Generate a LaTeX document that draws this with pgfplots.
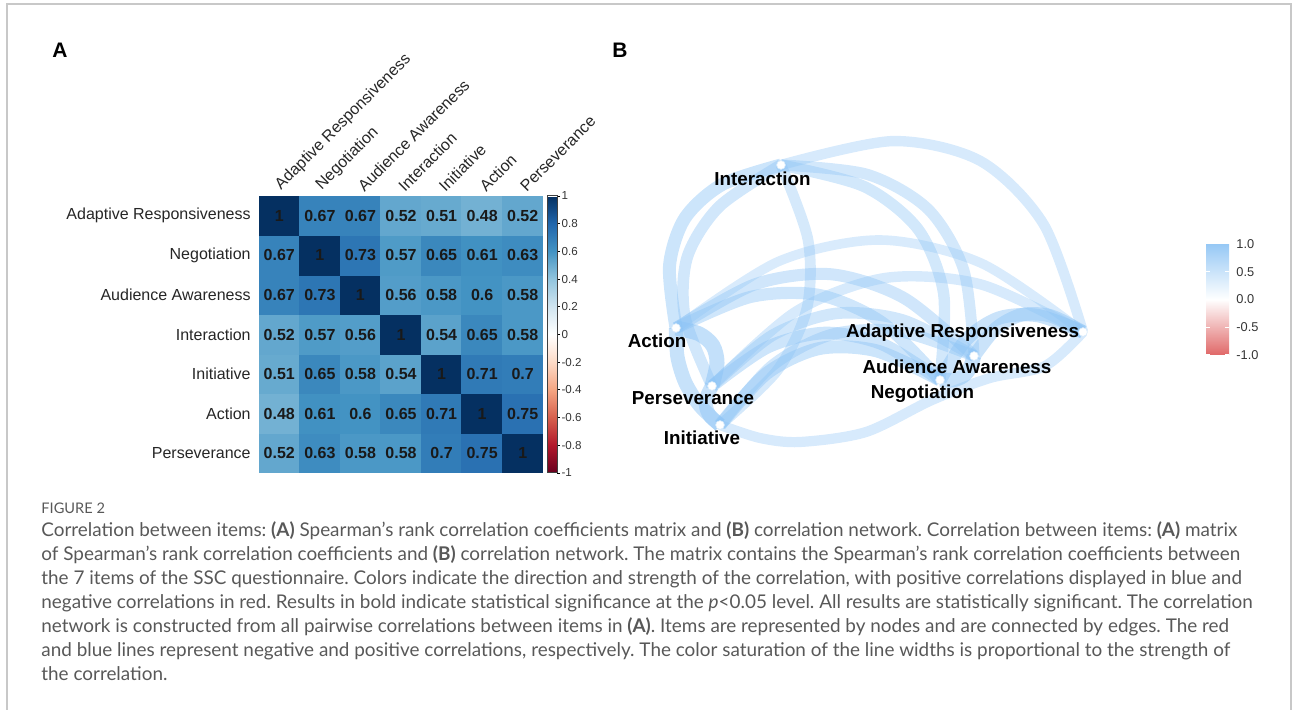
\documentclass[border=0pt]{standalone}
\usepackage{pgfplots}
\pgfplotsset{compat=1.18}
\usepackage{pgfplotstable}
\usepackage{fontspec}
\setmainfont{Liberation Sans}
\newfontfamily\capfont{Lato}

\definecolor{edgeblue}{RGB}{140,195,245}
\definecolor{captgray}{RGB}{88,88,88}
\definecolor{framegray}{RGB}{200,200,200}

\pgfplotsset{
  colormap={RdBu}{rgb255=(103,0,31) rgb255=(178,24,43) rgb255=(214,96,77) rgb255=(244,165,130)
    rgb255=(253,219,199) rgb255=(255,255,255) rgb255=(209,229,240) rgb255=(146,197,222)
    rgb255=(67,147,195) rgb255=(33,102,172) rgb255=(5,48,97)},
  colormap={net}{rgb255=(224,104,104) rgb255=(255,255,255) rgb255=(150,200,245)},
  netedge/.style 2 args={smooth, no marks, draw=edgeblue, draw opacity=#2, line width=#1*10pt},
}

% Spearman correlations, rows bottom (Perseverance) to top (Adaptive Responsiveness)
\pgfplotstableread{
x y c
0 0 0.52
1 0 0.63
2 0 0.58
3 0 0.58
4 0 0.7
5 0 0.75
6 0 1
0 1 0.48
1 1 0.61
2 1 0.6
3 1 0.65
4 1 0.71
5 1 1
6 1 0.75
0 2 0.51
1 2 0.65
2 2 0.58
3 2 0.54
4 2 1
5 2 0.71
6 2 0.7
0 3 0.52
1 3 0.57
2 3 0.56
3 3 1
4 3 0.54
5 3 0.65
6 3 0.58
0 4 0.67
1 4 0.73
2 4 1
3 4 0.56
4 4 0.58
5 4 0.6
6 4 0.58
0 5 0.67
1 5 1
2 5 0.73
3 5 0.57
4 5 0.65
5 5 0.61
6 5 0.63
0 6 1
1 6 0.67
2 6 0.67
3 6 0.52
4 6 0.51
5 6 0.48
6 6 0.52
}\corr

\begin{document}
\frenchspacing
\begin{tikzpicture}
\path[use as bounding box] (0,0) rectangle (646.5pt,355pt);
\draw[framegray, line width=0.6pt] (3.5pt,0pt) -- (3.5pt,353pt) -- (645.5pt,353pt) -- (645.5pt,0pt);

\node[font=\bfseries\fontsize{10.5}{12}\selectfont] at (30pt,330pt) {A};
\node[font=\bfseries\fontsize{10.5}{12}\selectfont] at (310pt,330pt) {B};

% ---------- panel A: correlation matrix
\begin{axis}[
  at={(129.5pt,118.5pt)}, anchor=south west,
  scale only axis, width=142pt, height=138.5pt,
  xmin=-0.5, xmax=6.5, ymin=-0.5, ymax=6.5,
  axis line style={draw=none}, major tick length=0pt,
  xtick={0,...,6}, ytick={0,...,6},
  xticklabels={Adaptive Responsiveness,Negotiation,Audience Awareness,Interaction,Initiative,Action,Perseverance},
  yticklabels={Perseverance,Action,Initiative,Interaction,Audience Awareness,Negotiation,Adaptive Responsiveness},
  xticklabel pos=right,
  xticklabel style={rotate=45, anchor=south west, inner sep=0pt, xshift=2.5pt, yshift=-0.5pt},
  yticklabel style={anchor=east, inner sep=0pt, xshift=-4pt},
  tick label style={font=\fontsize{8}{9}\selectfont, text=black!85},
  colormap name=RdBu, point meta min=-1, point meta max=1,
]
\addplot[matrix plot*, mesh/cols=7, point meta=explicit] table[x=x, y=y, meta=c] {\corr};
\addplot[only marks, mark=none, point meta=explicit symbolic,
  nodes near coords={\pgfplotspointmeta}, nodes near coords align={center},
  every node near coord/.append style={font=\bfseries\fontsize{8}{9}\selectfont, text=black!90, inner sep=0pt}]
  table[x=x, y=y, meta=c] {\corr};
\end{axis}

% colorbar of panel A
\begin{axis}[
  at={(273.5pt,118.5pt)}, anchor=south west,
  hide axis, scale only axis, width=0pt, height=0pt,
  colormap name=RdBu, point meta min=-1, point meta max=1,
  colorbar shift/.style={},
  colorbar,
  colorbar style={
    at={(parent axis.south west)}, anchor=south west,
    scale only axis, width=5pt, height=138.5pt,
    ytick={-1,-0.8,-0.6,-0.4,-0.2,0,0.2,0.4,0.6,0.8,1},
    yticklabels={-1,-0.8,-0.6,-0.4,-0.2,0,0.2,0.4,0.6,0.8,1},
    yticklabel style={font=\fontsize{5.8}{6}\selectfont, text=black!80, inner sep=0.6pt},
    major tick length=1.5pt, tick align=outside, ytick pos=right,
    tick style={black, line width=0.4pt},
    axis line style={black!75, line width=0.5pt},
  },
]
\addplot[draw=none] coordinates {(0,0)};
\end{axis}

% ---------- panel B: correlation network (pixel-like coordinates)
\begin{axis}[
  at={(300pt,125pt)}, anchor=south west,
  scale only axis, width=250pt, height=165pt,
  xmin=600, xmax=1100, ymin=130, ymax=460, y dir=reverse,
  hide axis, clip=false,
]
\addplot[netedge={0.48}{0.33}] coordinates {(676,328) (778.4,261.5) (880.4,240) (981.9,263.5) (1083,332)};
\addplot[netedge={0.51}{0.35}] coordinates {(720,425) (760,438) (800,442) (866,432) (932,400) (990,378) (1045,366) (1083,332)};
\addplot[netedge={0.52}{0.35}] coordinates {(781,165) (892.8,141.1) (980.4,161) (1043.8,224.6) (1083,332)};
\addplot[netedge={0.52}{0.35}] coordinates {(712,386) (795.9,311.6) (885.7,277.9) (981.4,284.6) (1083,332)};
\addplot[netedge={0.54}{0.37}] coordinates {(781,165) (808,239.9) (806.9,308.2) (777.6,369.9) (720,425)};
\addplot[netedge={0.56}{0.38}] coordinates {(781,165) (867.2,174.4) (928.2,209.3) (963.7,269.9) (974,356)};
\addplot[netedge={0.57}{0.39}] coordinates {(781,165) (864.2,186.6) (918.4,229.7) (943.7,294.1) (940,380)};
\addplot[netedge={0.58}{0.40}] coordinates {(781,165) (719.4,206.4) (687.3,257) (684.9,316.9) (712,386)};
\addplot[netedge={0.58}{0.40}] coordinates {(712,386) (772.5,335.3) (836.4,313.4) (903.5,320.3) (974,356)};
\addplot[netedge={0.58}{0.40}] coordinates {(720,425) (772.1,365.7) (831.8,334.5) (899.1,331.3) (974,356)};
\addplot[netedge={0.60}{0.41}] coordinates {(676,328) (755.3,284.2) (831.4,274.3) (904.3,298.2) (974,356)};
\addplot[netedge={0.61}{0.42}] coordinates {(676,328) (750.7,296.9) (819.6,295.1) (882.7,322.9) (940,380)};
\addplot[netedge={0.63}{0.43}] coordinates {(712,386) (768,347) (824.7,333) (882,344) (940,380)};
\addplot[netedge={0.65}{0.44}] coordinates {(781,165) (722,184.6) (684.8,218.3) (669.5,266.1) (676,328)};
\addplot[netedge={0.65}{0.44}] coordinates {(720,425) (766.7,373.4) (819,348.6) (876.7,350.9) (940,380)};
\addplot[netedge={0.67}{0.46}] coordinates {(974,356) (996.4,328) (1022,314.7) (1050.9,316) (1083,332)};
\addplot[netedge={0.67}{0.46}] coordinates {(940,380) (966.2,339.6) (998.8,318.1) (1037.7,315.6) (1083,332)};
\addplot[netedge={0.70}{0.48}] coordinates {(712,386) (706.6,397.3) (706.2,407.5) (710.6,416.8) (720,425)};
\addplot[netedge={0.71}{0.49}] coordinates {(676,328) (677.4,356.6) (685.2,382.3) (699.4,405.1) (720,425)};
\addplot[netedge={0.73}{0.50}] coordinates {(940,380) (952.8,380.1) (962.8,376.2) (969.8,368.1) (974,356)};
\addplot[netedge={0.75}{0.52}] coordinates {(676,328) (699,333.8) (712.7,345.4) (717,362.8) (712,386)};
% nodes
\addplot[only marks, mark=*, mark size=2.2pt, mark options={fill=white, draw=edgeblue!35, line width=0.3pt}]
  coordinates {(1083,332) (940,380) (974,356) (781,165) (720,425) (676,328) (712,386)};
\begin{scope}[font=\bfseries\fontsize{9.4}{10}\selectfont, inner sep=0pt]
\node[anchor=mid] at (axis cs:762.5,180) {Interaction};
\node[anchor=mid] at (axis cs:657,342) {Action};
\node[anchor=mid] at (axis cs:693,399) {Perseverance};
\node[anchor=mid] at (axis cs:702,439) {Initiative};
\node[anchor=mid] at (axis cs:962.5,332) {Adaptive Responsiveness};
\node[anchor=mid] at (axis cs:957,368) {Audience Awareness};
\node[anchor=mid] at (axis cs:922.5,393) {Negotiation};
\end{scope}
\end{axis}

% colorbar of panel B
\begin{axis}[
  at={(603pt,177.5pt)}, anchor=south west,
  hide axis, scale only axis, width=0pt, height=0pt,
  colormap name=net, point meta min=-1, point meta max=1,
  colorbar shift/.style={},
  colorbar,
  colorbar style={
    at={(parent axis.south west)}, anchor=south west,
    scale only axis, width=11.5pt, height=55.5pt,
    ytick={-1,-0.5,0,0.5,1},
    yticklabels={-1.0,-0.5,0.0,0.5,1.0},
    yticklabel style={font=\fontsize{6.4}{7}\selectfont, text=black!80, inner sep=0pt, xshift=3.5pt},
    major tick length=2pt, tick align=inside, ytick pos=both,
    tick style={white, line width=0.5pt},
    axis line style={draw=none},
  },
]
\addplot[draw=none] coordinates {(0,0)};
\end{axis}

% ---------- caption
\begin{scope}[every node/.style={anchor=mid west, inner sep=0pt, text=captgray}, font=\capfont\fontsize{9.45}{11}\selectfont]
\node[font=\capfont\fontsize{7.3}{8}\selectfont] at (20.5pt,101pt) {FIGURE 2};
\node at (20.5pt,89.25pt) {Correlation between items: \textbf{(A)} Spearman’s rank correlation coefficients matrix and \textbf{(B)} correlation network. Correlation between items: \textbf{(A)} matrix};
\node at (20.5pt,77.3pt) {of Spearman’s rank correlation coefficients and \textbf{(B)} correlation network. The matrix contains the Spearman’s rank correlation coefficients between};
\node at (20.5pt,65.35pt) {the 7 items of the SSC questionnaire. Colors indicate the direction and strength of the correlation, with positive correlations displayed in blue and};
\node at (20.5pt,53.4pt) {negative correlations in red. Results in bold indicate statistical significance at the \textit{p}<0.05 level. All results are statistically significant. The correlation};
\node at (20.5pt,41.45pt) {network is constructed from all pairwise correlations between items in \textbf{(A)}. Items are represented by nodes and are connected by edges. The red};
\node at (20.5pt,29.5pt) {and blue lines represent negative and positive correlations, respectively. The color saturation of the line widths is proportional to the strength of};
\node at (20.5pt,17.55pt) {the correlation.};
\end{scope}
\end{tikzpicture}
\end{document}
